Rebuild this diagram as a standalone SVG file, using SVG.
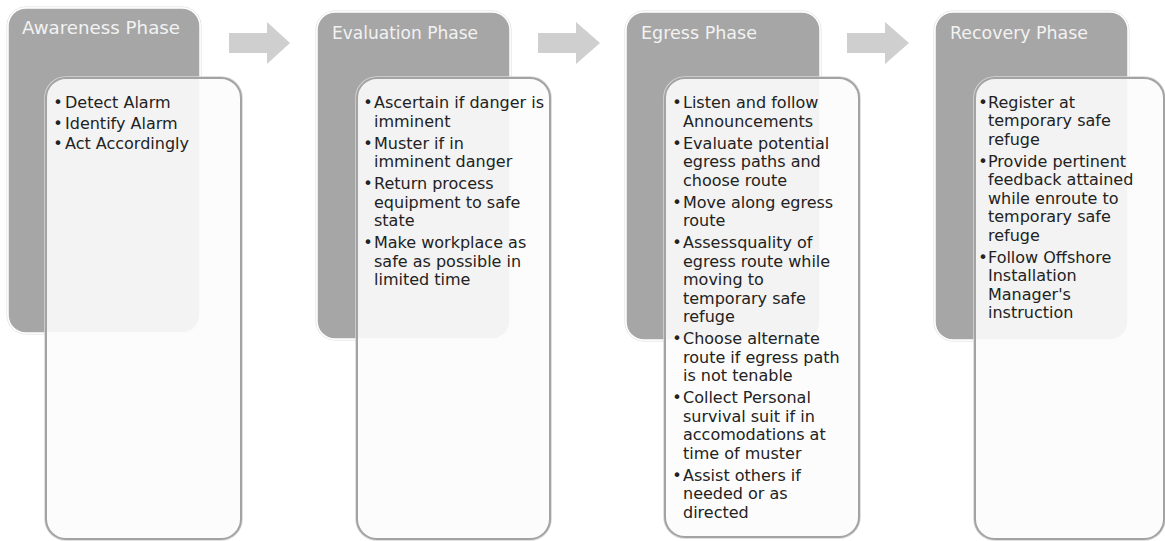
<svg xmlns="http://www.w3.org/2000/svg" width="1165" height="541" viewBox="0 0 1165 541">
<defs>
<style>
.dark{fill:#a6a6a6;stroke:#ffffff;stroke-width:1.5}
.halo{fill:none;stroke:#dedede;stroke-width:1}
.card{fill:#fcfcfc;fill-opacity:0.9;stroke:#a3a3a3;stroke-width:2}
.cardsh{fill:none;stroke:#d6d6d6;stroke-width:1.5}
.title{font-family:"DejaVu Sans","Liberation Sans",sans-serif;font-size:17px;fill:#f2f2f2}
.b{font-family:"DejaVu Sans","Liberation Sans",sans-serif;font-size:16px;fill:#222222}
.dot{font-family:"DejaVu Sans","Liberation Sans",sans-serif;font-size:16px;fill:#222222;text-anchor:middle}
.arrow{fill:#cfcfcf}
</style>
</defs>
<rect width="1165" height="541" fill="#ffffff"/>

<g id="connectors">
<polygon class="arrow" points="229,33 267,33 267,22 290,43 267,64 267,53 229,53"/>
<polygon class="arrow" points="538,33 576,33 576,22 600,43 576,64 576,53 538,53"/>
<polygon class="arrow" points="847,33 885,33 885,22 909,43 885,64 885,53 847,53"/>
</g>

<g id="awareness">
<rect class="halo" x="7" y="7" width="194" height="327" rx="19"/>
<rect class="dark" x="8" y="8" width="192" height="325" rx="18"/>
<text class="title" x="22" y="34" textLength="158" lengthAdjust="spacingAndGlyphs">Awareness Phase</text>
<rect class="cardsh" x="45" y="77" width="197" height="463" rx="21"/>
<rect class="card" x="46" y="78" width="195" height="461" rx="20"/>
<text class="dot" x="58" y="108">•</text><text class="b" x="65" y="108">Detect Alarm</text>
<text class="dot" x="58" y="128.5">•</text><text class="b" x="65" y="128.5">Identify Alarm</text>
<text class="dot" x="58" y="149">•</text><text class="b" x="65" y="149">Act Accordingly</text>
</g>

<g id="evaluation">
<rect class="halo" x="316" y="11" width="195" height="329" rx="19"/>
<rect class="dark" x="317" y="12" width="193" height="327" rx="18"/>
<text class="title" x="332" y="38.5" textLength="146" lengthAdjust="spacingAndGlyphs">Evaluation Phase</text>
<rect class="cardsh" x="356" y="77" width="195" height="463" rx="21"/>
<rect class="card" x="357" y="78" width="193" height="461" rx="20"/>
<text class="dot" x="368" y="108.3">•</text>
<text class="b" x="374" y="108.3">Ascertain if danger is</text>
<text class="b" x="374" y="126.8">imminent</text>
<text class="dot" x="368" y="148.8">•</text>
<text class="b" x="374" y="148.8">Muster if in</text>
<text class="b" x="374" y="167.3">imminent danger</text>
<text class="dot" x="368" y="189.3">•</text>
<text class="b" x="374" y="189.3">Return process</text>
<text class="b" x="374" y="207.8">equipment to safe</text>
<text class="b" x="374" y="226.3">state</text>
<text class="dot" x="368" y="248.3">•</text>
<text class="b" x="374" y="248.3">Make workplace as</text>
<text class="b" x="374" y="266.8">safe as possible in</text>
<text class="b" x="374" y="285.3">limited time</text>
</g>

<g id="egress">
<rect class="halo" x="625" y="11" width="196" height="330" rx="19"/>
<rect class="dark" x="626" y="12" width="194" height="328" rx="18"/>
<text class="title" x="641" y="38.5" textLength="116" lengthAdjust="spacingAndGlyphs">Egress Phase</text>
<rect class="cardsh" x="664" y="77" width="196" height="461" rx="21"/>
<rect class="card" x="665" y="78" width="194" height="459" rx="20"/>
<text class="dot" x="677" y="108.3">•</text>
<text class="b" x="683" y="108.3">Listen and follow</text>
<text class="b" x="683" y="126.8">Announcements</text>
<text class="dot" x="677" y="148.8">•</text>
<text class="b" x="683" y="148.8">Evaluate potential</text>
<text class="b" x="683" y="167.3">egress paths and</text>
<text class="b" x="683" y="185.8">choose route</text>
<text class="dot" x="677" y="207.8">•</text>
<text class="b" x="683" y="207.8">Move along egress</text>
<text class="b" x="683" y="226.3">route</text>
<text class="dot" x="677" y="248.3">•</text>
<text class="b" x="683" y="248.3">Assessquality of</text>
<text class="b" x="683" y="266.8">egress route while</text>
<text class="b" x="683" y="285.3">moving to</text>
<text class="b" x="683" y="303.8">temporary safe</text>
<text class="b" x="683" y="322.3">refuge</text>
<text class="dot" x="677" y="344.3">•</text>
<text class="b" x="683" y="344.3">Choose alternate</text>
<text class="b" x="683" y="362.8">route if egress path</text>
<text class="b" x="683" y="381.3">is not tenable</text>
<text class="dot" x="677" y="403.3">•</text>
<text class="b" x="683" y="403.3">Collect Personal</text>
<text class="b" x="683" y="421.8">survival suit if in</text>
<text class="b" x="683" y="440.3">accomodations at</text>
<text class="b" x="683" y="458.8">time of muster</text>
<text class="dot" x="677" y="480.8">•</text>
<text class="b" x="683" y="480.8">Assist others if</text>
<text class="b" x="683" y="499.3">needed or as</text>
<text class="b" x="683" y="517.8">directed</text>
</g>

<g id="recovery">
<rect class="halo" x="934" y="11" width="195" height="330" rx="19"/>
<rect class="dark" x="935" y="12" width="193" height="328" rx="18"/>
<text class="title" x="950" y="38.5" textLength="138" lengthAdjust="spacingAndGlyphs">Recovery Phase</text>
<rect class="cardsh" x="974" y="77" width="191" height="463" rx="21"/>
<rect class="card" x="975" y="78" width="189" height="461" rx="20"/>
<text class="dot" x="983" y="107.5">•</text>
<text class="b" x="988" y="107.5">Register at</text>
<text class="b" x="988" y="126">temporary safe</text>
<text class="b" x="988" y="144.5">refuge</text>
<text class="dot" x="983" y="166.5">•</text>
<text class="b" x="988" y="166.5">Provide pertinent</text>
<text class="b" x="988" y="185">feedback attained</text>
<text class="b" x="988" y="203.5">while enroute to</text>
<text class="b" x="988" y="222">temporary safe</text>
<text class="b" x="988" y="240.5">refuge</text>
<text class="dot" x="983" y="262.5">•</text>
<text class="b" x="988" y="262.5">Follow Offshore</text>
<text class="b" x="988" y="281">Installation</text>
<text class="b" x="988" y="299.5">Manager's</text>
<text class="b" x="988" y="318">instruction</text>
</g>
</svg>
